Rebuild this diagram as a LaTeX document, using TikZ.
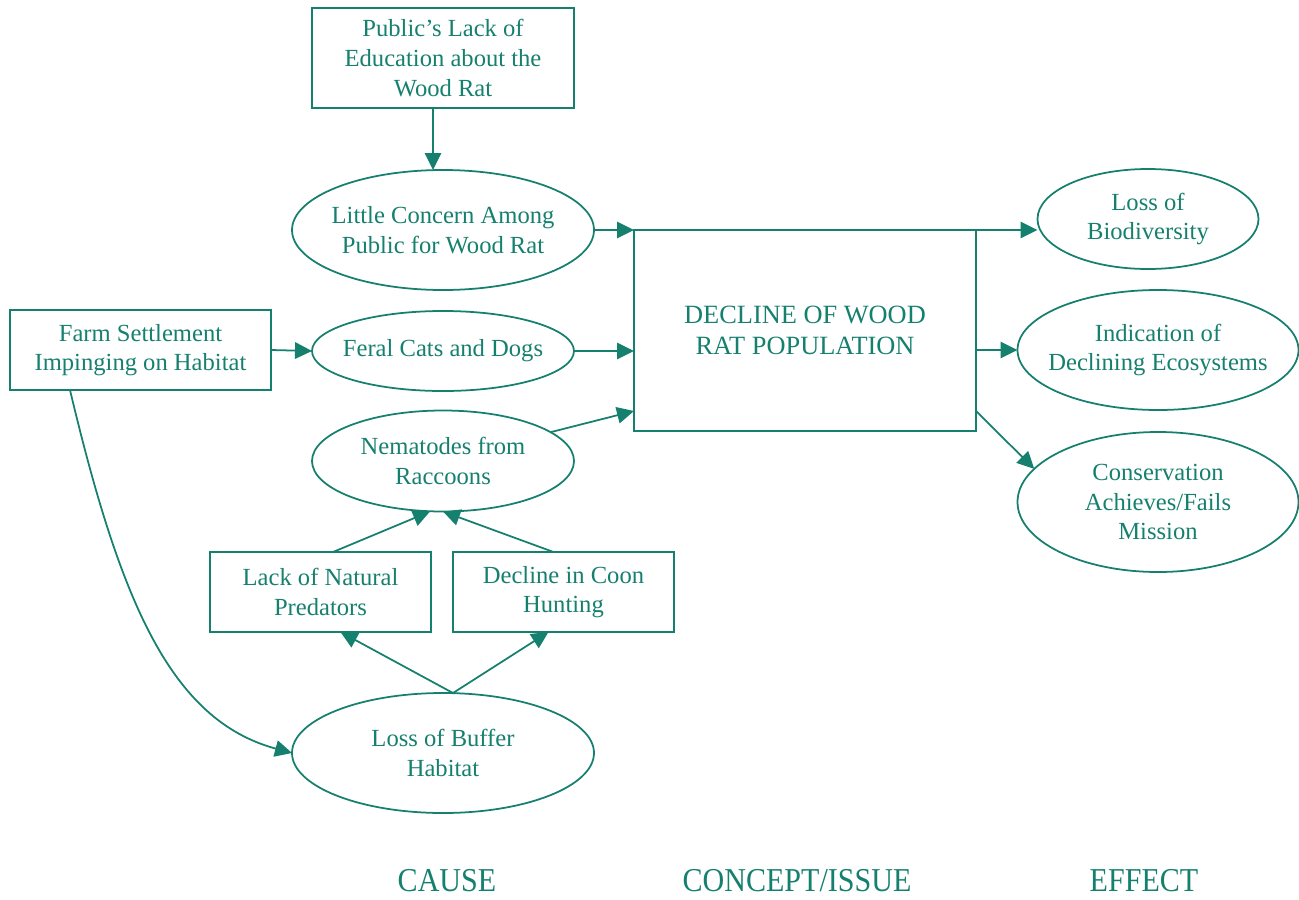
\documentclass[tikz,border=0pt]{standalone}
\usepackage{fontspec}
\setmainfont{Liberation Serif}
\usepackage{xcolor}
\usetikzlibrary{arrows.meta,positioning,shapes.geometric,calc}
\definecolor{ratteal}{HTML}{16806F}

\begin{document}
\begin{tikzpicture}[font=\fontsize{14}{16.8}\selectfont, line width=1pt, draw=ratteal, text=ratteal,
  box/.style={draw=ratteal, rectangle, align=center, inner sep=0pt, outer sep=0pt},
  oval/.style={draw=ratteal, ellipse, align=center, inner sep=-0.4cm, outer sep=0pt},
  flow/.style={draw=ratteal, -{Triangle[length=0.34cm,width=0.33cm]}, fill=none},
  head/.style={font=\fontsize{19}{22}\selectfont, xscale=0.9}]
\useasboundingbox (0,0) rectangle (25.98,-17.98);
% causes
\node[box, minimum width=5.24cm, minimum height=2cm]  (edu)     at (8.86,-1.16)  {Public's Lack of\\Education about the\\Wood Rat};
\node[oval, minimum width=6.04cm, minimum height=2.4cm] (concern) at (8.86,-4.6)  {Little Concern Among\\Public for Wood Rat};
\node[box, minimum width=5.22cm, minimum height=1.6cm] (farm)    at (2.81,-7.0)   {Farm Settlement\\Impinging on Habitat};
\node[oval, minimum width=5.24cm, minimum height=1.6cm] (feral)  at (8.86,-7.02)  {Feral Cats and Dogs};
\node[oval, minimum width=5.24cm, minimum height=2.02cm] (nema)  at (8.86,-9.22)  {Nematodes from\\Raccoons};
\node[box, minimum width=4.42cm, minimum height=1.6cm] (pred)    at (6.41,-11.84) {Lack of Natural\\Predators};
\node[box, minimum width=4.42cm, minimum height=1.6cm] (coon)    at (11.27,-11.84) {Decline in Coon\\Hunting};
\node[oval, minimum width=6.04cm, minimum height=2.4cm] (buffer) at (8.86,-15.06) {Loss of Buffer\\Habitat};
% concept
\node[box, minimum width=6.84cm, minimum height=4.02cm, font=\fontsize{15}{17.4}\selectfont] (decline) at (16.1,-6.61) {DECLINE OF WOOD\\RAT POPULATION};
% effects
\node[oval, minimum width=4.42cm, minimum height=2cm]   (bio)     at (22.96,-4.38) {Loss of\\Biodiversity};
\node[oval, minimum width=5.62cm, minimum height=2.4cm] (ecosys)  at (23.16,-7.0)  {Indication of\\Declining Ecosystems};
\node[oval, minimum width=5.62cm, minimum height=2.8cm] (cons)    at (23.16,-10.04) {Conservation\\Achieves/Fails\\Mission};
% column heads
\node[head] (cause)   at (8.94,-17.62)  {CAUSE};
\node[head] (concept) at (15.94,-17.62) {CONCEPT/ISSUE};
\node[head] (effect)  at (22.88,-17.62) {EFFECT};
% connectors
\draw[flow] ($(edu.south)+(-0.2,0)$) -- ($(concern.north)+(-0.2,0)$);
\draw[flow] (concern.east) -- (decline.north west);
\draw[flow] (decline.north east) -- (decline.north east -| bio.west);
\draw[flow] (farm.east) -- (feral.west);
\draw[flow] (feral.east) -- (feral.east -| decline.west);
\draw[flow] (ecosys.west -| decline.east) -- (ecosys.west);
\draw[flow] (nema.15) -- ($(decline.south west)+(0,0.4)$);
\draw[flow] ($(decline.south east)+(0,0.4)$) -- (cons.165);
\draw[flow] ($(pred.north)+(0.25,0)$) -- ($(nema.south)+(-0.26,0)$);
\draw[flow] ($(coon.north)+(-0.2,0)$) -- (nema.south);
\draw[flow] ($(buffer.north)+(0.2,0)$) -- ($(pred.south)+(0.4,0)$);
\draw[flow] ($(buffer.north)+(0.2,0)$) -- ($(coon.south)+(-0.3,0)$);
\draw[flow] ($(farm.south west)+(1.2,0)$) .. controls (2.4,-12.0) and (3.4,-14.4) .. (buffer.west);
\end{tikzpicture}
\end{document}
